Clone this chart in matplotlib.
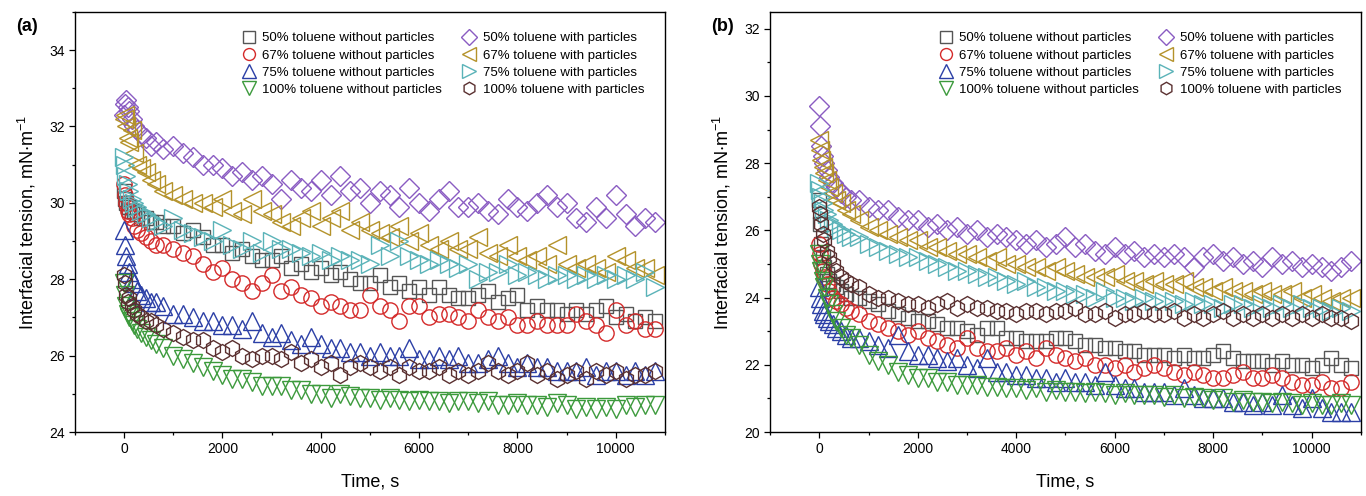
import matplotlib
matplotlib.use("Agg")
import matplotlib.pyplot as plt
from matplotlib.ticker import MultipleLocator

plt.rcParams['font.family'] = ['Liberation Sans', 'DejaVu Sans']
plt.rcParams['mathtext.default'] = 'regular'

# sampling times (s), shared by every series
time_s = [0, 20, 40, 70, 100, 150, 200, 270, 350, 450, 550, 650, 800,
          1000, 1200, 1400, 1600, 1800, 2000, 2200, 2400, 2600, 2800,
          3000, 3200, 3400, 3600, 3800, 4000, 4200, 4400, 4600, 4800,
          5000, 5200, 5400, 5600, 5800, 6000, 6200, 6400, 6600, 6800,
          7000, 7200, 7400, 7600, 7800, 8000, 8200, 8400, 8600, 8800,
          9000, 9200, 9400, 9600, 9800, 10000, 10200, 10400, 10600, 10800]

labels = ['50% toluene without particles', '67% toluene without particles',
          '75% toluene without particles', '100% toluene without particles',
          '50% toluene with particles', '67% toluene with particles',
          '75% toluene with particles', '100% toluene with particles']

# ---- panel (a) ----
a_50_wo = [30.3, 30.1, 30.0, 29.9, 29.9, 29.8, 29.8, 29.7, 29.6, 29.6, 29.5, 29.5, 29.4,
           29.4, 29.2, 29.3, 29.1, 28.9, 28.9, 28.7, 28.8, 28.6, 28.5,
           28.5, 28.6, 28.3, 28.4, 28.2, 28.3, 28.1, 28.2, 28.0, 27.9,
           27.9, 28.1, 27.8, 27.9, 27.7, 27.8, 27.6, 27.8, 27.6, 27.5,
           27.5, 27.6, 27.7, 27.4, 27.5, 27.6, 27.2, 27.3, 27.2, 27.2,
           27.1, 27.2, 27.1, 27.2, 27.3, 27.0, 27.1, 26.9, 27.0, 26.9]
a_67_wo = [30.5, 30.2, 30.0, 29.8, 29.7, 29.6, 29.4, 29.3, 29.2, 29.1, 29.0, 28.9, 28.9,
           28.8, 28.7, 28.6, 28.4, 28.2, 28.3, 28.0, 27.9, 27.7, 27.9,
           28.1, 27.7, 27.8, 27.6, 27.5, 27.3, 27.4, 27.3, 27.2, 27.2,
           27.6, 27.3, 27.2, 26.9, 27.3, 27.3, 27.0, 27.1, 27.1, 27.0,
           26.9, 27.2, 27.0, 26.9, 27.0, 26.8, 26.8, 26.9, 26.8, 26.8,
           26.8, 27.1, 26.9, 26.8, 26.6, 27.2, 26.8, 26.9, 26.7, 26.7]
a_75_wo = [29.3, 28.9, 28.6, 28.4, 28.2, 28.0, 27.9, 27.7, 27.6, 27.5, 27.4, 27.4, 27.3,
           27.1, 27.1, 27.0, 26.9, 26.9, 26.8, 26.8, 26.7, 26.9, 26.6,
           26.5, 26.6, 26.4, 26.3, 26.5, 26.3, 26.2, 26.2, 26.1, 26.1,
           26.0, 26.1, 26.0, 26.0, 26.2, 25.9, 25.9, 26.0, 25.9, 26.0,
           25.8, 25.8, 25.9, 26.0, 25.8, 25.7, 25.8, 25.7, 25.7, 25.6,
           25.6, 25.6, 25.7, 25.5, 25.6, 25.6, 25.5, 25.6, 25.5, 25.6]
a_100_wo = [27.9, 27.6, 27.3, 27.1, 27.0, 26.9, 26.8, 26.7, 26.6, 26.5, 26.4, 26.3, 26.2,
            26.0, 25.9, 25.8, 25.7, 25.6, 25.5, 25.4, 25.4, 25.3, 25.2,
            25.2, 25.2, 25.1, 25.1, 25.0, 25.0, 24.9, 25.0, 24.95, 24.9,
            24.9, 24.85, 24.9, 24.85, 24.8, 24.85, 24.8, 24.8, 24.75, 24.8,
            24.8, 24.75, 24.8, 24.7, 24.7, 24.75, 24.7, 24.7, 24.65, 24.75,
            24.7, 24.6, 24.65, 24.6, 24.65, 24.6, 24.7, 24.65, 24.7, 24.7]
a_50_w = [32.3, 32.6, 32.7, 32.5, 32.4, 32.2, 32.0, 31.9, 31.8, 31.7, 31.5, 31.6, 31.4,
          31.5, 31.3, 31.2, 31.0, 31.0, 30.9, 30.7, 30.8, 30.6, 30.7,
          30.5, 30.1, 30.6, 30.4, 30.3, 30.6, 30.2, 30.7, 30.3, 30.4,
          30.0, 30.3, 30.2, 29.9, 30.4, 30.0, 29.8, 30.1, 30.3, 29.9,
          29.9, 30.0, 29.8, 29.7, 30.1, 29.9, 29.8, 30.0, 30.2, 29.9,
          30.0, 29.6, 29.5, 29.9, 29.6, 30.2, 29.7, 29.4, 29.6, 29.5]
a_67_w = [32.2, 32.3, 32.0, 31.7, 31.6, 31.9, 31.3, 31.0, 30.9, 30.8, 30.6, 30.5, 30.3,
          30.2, 30.1, 30.0, 30.0, 29.9, 30.1, 29.8, 29.7, 30.1, 29.8,
          29.7, 29.5, 29.4, 29.6, 29.8, 29.4, 29.6, 29.8, 29.3, 29.5,
          29.3, 29.2, 29.1, 29.4, 29.0, 29.2, 28.9, 28.8, 29.0, 28.8,
          28.8, 29.1, 28.7, 28.6, 28.9, 28.6, 28.5, 28.6, 28.4, 28.9,
          28.4, 28.3, 28.4, 28.3, 28.2, 28.6, 28.5, 28.3, 28.3, 28.1]
a_75_w = [31.2, 31.0, 30.7, 30.5, 30.3, 30.1, 30.0, 29.9, 29.8, 29.7, 29.6, 29.5, 29.4,
          29.6, 29.3, 29.2, 29.1, 29.0, 29.3, 28.9, 28.8, 29.0, 28.7,
          29.0, 28.8, 28.8, 28.7, 28.6, 28.7, 28.5, 28.6, 28.5, 28.5,
          28.4, 28.9, 28.6, 29.0, 28.6, 28.5, 28.4, 28.5, 28.4, 28.3,
          28.4, 28.0, 28.2, 28.2, 28.4, 28.1, 28.2, 28.1, 28.0, 28.1,
          28.1, 28.0, 28.1, 28.0, 28.1, 28.0, 28.1, 28.0, 28.2, 27.8]
a_100_w = [28.1, 27.9, 27.6, 27.4, 27.5, 27.3, 27.2, 27.1, 27.0, 26.9, 26.9, 26.8, 26.7,
           26.6, 26.5, 26.4, 26.4, 26.2, 26.1, 26.2, 26.0, 25.9, 26.0,
           26.0, 25.9, 26.1, 25.8, 25.9, 25.7, 25.8, 25.5, 25.7, 25.8,
           25.7, 25.6, 25.7, 25.5, 25.7, 25.6, 25.6, 25.7, 25.5, 25.6,
           25.5, 25.6, 25.8, 25.6, 25.5, 25.6, 25.8, 25.5, 25.6, 25.4,
           25.5, 25.6, 25.4, 25.6, 25.5, 25.6, 25.4, 25.5, 25.5, 25.6]

# ---- panel (b) ----
b_50_wo = [26.9, 26.2, 25.6, 25.2, 24.9, 24.7, 24.5, 24.4, 24.3, 24.2, 24.1, 24.0, 24.0,
           23.9, 23.8, 23.6, 23.5, 23.4, 23.3, 23.3, 23.2, 23.1, 23.1,
           23.0, 22.9, 23.1, 23.1, 22.8, 22.8, 22.7, 22.7, 22.7, 22.8,
           22.8, 22.7, 22.6, 22.6, 22.5, 22.5, 22.4, 22.4, 22.3, 22.3,
           22.3, 22.2, 22.3, 22.2, 22.2, 22.3, 22.4, 22.2, 22.1, 22.1,
           22.1, 22.0, 22.1, 22.0, 22.0, 21.9, 22.0, 22.2, 22.0, 21.9]
b_67_wo = [25.6, 25.3, 25.0, 24.8, 24.6, 24.4, 24.2, 24.0, 23.9, 23.8, 23.7, 23.6, 23.5,
           23.3, 23.2, 23.1, 23.0, 22.9, 23.0, 22.8, 22.7, 22.6, 22.5,
           22.8, 22.5, 22.4, 22.4, 22.5, 22.3, 22.4, 22.2, 22.5, 22.3,
           22.2, 22.1, 22.2, 22.0, 22.0, 21.9, 22.0, 21.8, 21.9, 22.0,
           21.9, 21.8, 21.7, 21.8, 21.7, 21.6, 21.6, 21.7, 21.8, 21.6,
           21.6, 21.7, 21.6, 21.5, 21.4, 21.4, 21.5, 21.3, 21.3, 21.5]
b_75_wo = [24.3, 24.0, 23.8, 23.6, 23.5, 23.4, 23.3, 23.2, 23.1, 23.0, 22.9, 22.8, 22.8,
           22.7, 22.6, 22.5, 22.9, 22.4, 22.3, 22.3, 22.2, 22.1, 22.2,
           22.0, 21.9, 22.2, 21.8, 21.8, 21.7, 21.7, 21.6, 21.6, 21.5,
           21.6, 21.5, 21.5, 21.4, 21.8, 21.4, 21.3, 21.3, 21.2, 21.2,
           21.2, 21.1, 21.3, 21.1, 21.0, 21.0, 21.0, 20.9, 20.9, 20.8,
           20.9, 20.8, 21.1, 20.8, 20.7, 21.0, 20.7, 20.6, 20.6, 20.6]
b_100_wo = [25.3, 25.0, 24.8, 24.5, 24.3, 24.0, 23.8, 23.5, 23.3, 23.1, 22.9, 22.8, 22.6,
            22.3, 22.1, 22.0, 21.8, 21.7, 21.6, 21.6, 21.5, 21.5, 21.4,
            21.4, 21.4, 21.35, 21.35, 21.3, 21.3, 21.25, 21.3, 21.2, 21.25,
            21.2, 21.2, 21.15, 21.2, 21.15, 21.1, 21.15, 21.1, 21.1, 21.1,
            21.05, 21.1, 21.0, 21.05, 21.0, 20.95, 21.0, 20.9, 20.95, 20.9,
            20.9, 20.85, 20.9, 20.85, 20.8, 20.85, 20.8, 20.8, 20.85, 20.8]
b_50_w = [29.7, 29.1, 28.5, 28.2, 28.0, 27.8, 27.6, 27.4, 27.3, 27.1, 27.0, 26.9, 26.9,
          26.7, 26.6, 26.6, 26.4, 26.3, 26.3, 26.1, 26.2, 26.0, 26.1,
          25.9, 26.0, 25.8, 25.9, 25.8, 25.7, 25.6, 25.7, 25.5, 25.6,
          25.8, 25.5, 25.6, 25.4, 25.3, 25.5, 25.3, 25.4, 25.2, 25.3,
          25.2, 25.3, 25.2, 24.9, 25.2, 25.3, 25.1, 25.2, 25.0, 25.1,
          24.9, 25.2, 25.0, 25.1, 24.9, 25.0, 24.9, 24.8, 24.9, 25.1]
b_67_w = [28.7, 28.4, 28.1, 27.9, 27.7, 27.5, 27.3, 27.1, 26.9, 26.8, 26.6, 26.5, 26.3,
          26.1, 26.0, 25.9, 25.8, 25.7, 25.7, 25.5, 25.5, 25.4, 25.3,
          25.3, 25.2, 25.1, 25.2, 25.0, 25.0, 24.9, 24.9, 24.8, 24.9,
          24.8, 24.7, 24.6, 24.6, 24.6, 24.7, 24.5, 24.5, 24.4, 24.5,
          24.4, 24.4, 24.5, 24.3, 24.3, 24.2, 24.3, 24.2, 24.2, 24.1,
          24.2, 24.1, 24.1, 24.2, 24.0, 24.1, 24.0, 23.9, 24.0, 24.0]
b_75_w = [27.4, 27.2, 27.0, 26.8, 26.6, 26.5, 26.3, 26.2, 26.1, 26.0, 25.9, 25.8, 25.8,
          25.6, 25.5, 25.4, 25.3, 25.2, 25.2, 25.1, 25.0, 24.9, 24.8,
          24.8, 24.7, 24.6, 24.6, 24.5, 24.4, 24.5, 24.3, 24.3, 24.2,
          24.2, 24.1, 24.1, 24.0, 24.2, 24.0, 24.0, 23.9, 24.0, 23.9,
          23.9, 23.9, 23.8, 23.9, 23.8, 23.8, 23.7, 23.8, 23.8, 23.7,
          23.8, 23.7, 23.8, 23.7, 23.8, 23.7, 23.7, 23.6, 23.7, 23.6]
b_100_w = [26.7, 26.5, 26.2, 25.9, 25.7, 25.4, 25.2, 25.0, 24.8, 24.6, 24.5, 24.4, 24.3,
           24.1, 24.0, 24.0, 23.9, 23.8, 23.8, 23.7, 23.8, 23.9, 23.7,
           23.8, 23.7, 23.7, 23.6, 23.6, 23.5, 23.6, 23.6, 23.5, 23.6,
           23.6, 23.7, 23.5, 23.5, 23.6, 23.4, 23.5, 23.5, 23.6, 23.5,
           23.5, 23.6, 23.4, 23.5, 23.4, 23.5, 23.6, 23.4, 23.5, 23.4,
           23.5, 23.4, 23.5, 23.4, 23.5, 23.4, 23.5, 23.4, 23.4, 23.3]

panel_a = [a_50_wo, a_67_wo, a_75_wo, a_100_wo, a_50_w, a_67_w, a_75_w, a_100_w]
panel_b = [b_50_wo, b_67_wo, b_75_wo, b_100_wo, b_50_w, b_67_w, b_75_w, b_100_w]

markers = ['s', 'o', '^', 'v', 'D', '<', '>', 'h']
colors = ['#555555', '#d42a2a', '#2b3fa6', '#3c9a3c',
          '#8a5cc2', '#b4922a', '#5ab3b8', '#5a3030']
sizes = [10.5, 11, 12.5, 12.5, 10, 12.5, 12.5, 11.5]

fig = plt.figure(figsize=(13.66, 4.96), dpi=100)
ax_a = fig.add_axes([0.0549, 0.129, 0.4319, 0.847])
ax_b = fig.add_axes([0.5637, 0.129, 0.4326, 0.847])


def draw(ax, series, ylim, tag, leg_x):
    for vals, mk, col, ms, lab in zip(series, markers, colors, sizes, labels):
        ax.plot(time_s, vals, ls='none', marker=mk, ms=ms, mfc='none',
                mec=col, mew=1.0, label=lab)
    ax.set_xlim(-1000, 11000)
    ax.set_ylim(*ylim)
    ax.xaxis.set_major_locator(MultipleLocator(2000))
    ax.xaxis.set_minor_locator(MultipleLocator(1000))
    ax.yaxis.set_major_locator(MultipleLocator(2))
    ax.yaxis.set_minor_locator(MultipleLocator(1))
    ax.tick_params(which='both', direction='out', labelsize=10, width=0.9)
    ax.tick_params(which='major', length=4)
    ax.tick_params(which='minor', length=2.5)
    for sp in ax.spines.values():
        sp.set_linewidth(1.0)
    ax.set_xlabel('Time, s', fontsize=13, labelpad=12)
    ax.set_ylabel(r'Interfacial tension, mN$\cdot$m$^{-1}$', fontsize=13, labelpad=8)
    ax.legend(loc='upper left', bbox_to_anchor=(leg_x, 0.952), ncol=2,
              frameon=False, fontsize=9.5, borderpad=0, borderaxespad=0,
              handlelength=1.0, handletextpad=0.5, labelspacing=0.38,
              columnspacing=1.6, markerscale=0.78)
    ax.text(-0.10, 0.985, tag, transform=ax.transAxes, fontsize=13,
            fontweight='bold', va='top', ha='left')


draw(ax_a, panel_a, (24, 35), '(a)', 0.283)
draw(ax_b, panel_b, (20, 32.5), '(b)', 0.286)

fig.savefig('out.png', dpi=100)
